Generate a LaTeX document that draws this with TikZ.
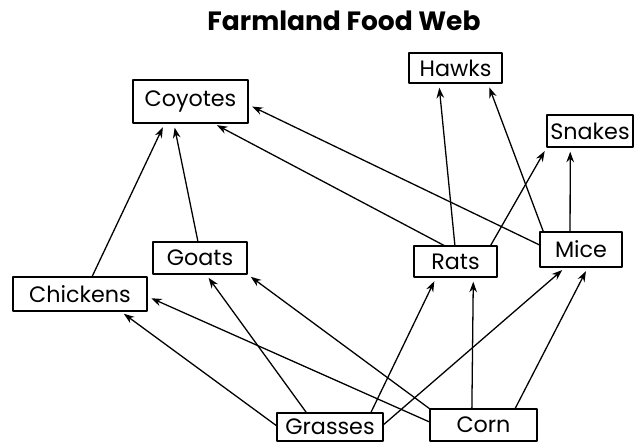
\documentclass[tikz,border=0pt]{standalone}
\usepackage{fontspec}
\setmainfont{Poppins}
\usetikzlibrary{arrows.meta}
\begin{document}
\begin{tikzpicture}[x=0.03cm,y=-0.03cm,>={Stealth[length=9pt,width=6.5pt]}, line join=round, line cap=round,
	animal/.style={draw,line width=1.3pt,font=\fontsize{19}{21}\selectfont,inner sep=0pt,outer sep=0pt},
	feeds/.style={->,line width=1.1pt,shorten >=4pt}]
			\useasboundingbox (0,0) rectangle (634,442);
			\node[font=\bfseries\fontsize{22.6}{25}\selectfont] (title) at (344,21) {Farmland Food Web};
			% consumers
			\node[animal,minimum width=3.45cm,minimum height=1.29cm] (coyotes) at (190.5,101.5) {Coyotes};
			\node[animal,minimum width=2.79cm,minimum height=0.9cm] (hawks) at (455.5,68) {Hawks};
			\node[animal,minimum width=2.58cm,minimum height=0.96cm] (snakes) at (590,131) {Snakes};
			\node[animal,minimum width=2.82cm,minimum height=0.96cm] (goats) at (200,258) {Goats};
			\node[animal,minimum width=2.49cm,minimum height=0.93cm] (rats) at (455.5,261.5) {Rats};
			\node[animal,minimum width=2.46cm,minimum height=1.05cm] (mice) at (581,249.5) {Mice};
			\node[animal,minimum width=4.02cm,minimum height=1.02cm] (chickens) at (80,294) {Chickens};
			% producers
			\node[animal,minimum width=3.18cm,minimum height=0.84cm] (grasses) at (330,427) {Grasses};
			\node[animal,minimum width=3.21cm,minimum height=0.96cm] (corn) at (483.5,425) {Corn};
			% who eats whom
			\draw[feeds](chickens.55)--(coyotes.220);
			\draw[feeds](goats.97)--(coyotes.232.5);
			\draw[feeds](rats.124)--(coyotes.-44);
			\draw[feeds](mice.174)--(coyotes.-3);
			\draw[feeds](rats.92)--(hawks.222);
			\draw[feeds](mice.155)--(hawks.-25);
			\draw[feeds](rats.24)--(snakes.south west);
			\draw[feeds](mice.122)--(snakes.219);
			\draw[feeds](grasses.179)--(chickens.-23);
			\draw[feeds](corn.177)--(chickens.-2);
			\draw[feeds](grasses.149)--(goats.-70);
			\draw[feeds](corn.north west)--(goats.south east);
			\draw[feeds](grasses.19)--(rats.219);
			\draw[feeds](corn.126)--(rats.-41.5);
			\draw[feeds](grasses.2)--(mice.229);
			\draw[feeds](corn.27)--(mice.-68);
\end{tikzpicture}
\end{document}
